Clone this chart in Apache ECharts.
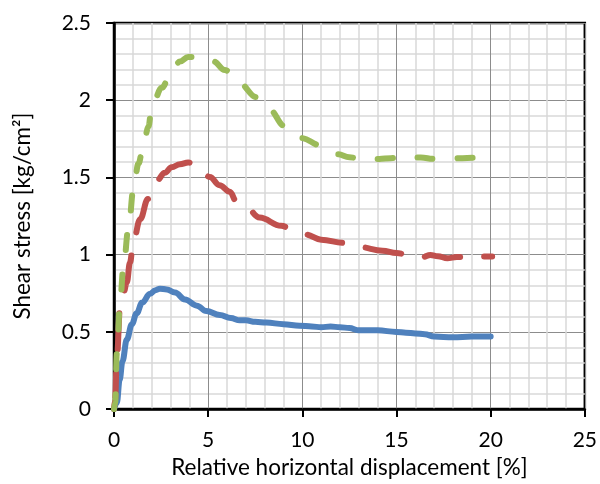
<!DOCTYPE html>
<html><head><meta charset="utf-8">
<script src="https://cdn.jsdelivr.net/npm/echarts@6/dist/echarts.min.js"></script>
<style>html,body{margin:0;padding:0;background:#fff}#c{width:600px;height:484px}</style>
</head><body><div id="c"></div>
<script>
const xTitle = "Relative horizontal displacement [%]";
const yTitle = "Shear stress [kg/cm²]";
const blueX = [0,0.15,0.3,0.45,0.68,0.95,1.2,1.5,1.9,2.2,2.44,2.8,3.24,3.77,4.4,4.9,5.62,6.2,6.68,7.0,7.5,8.09,9.0,9.85,10.5,11,11.5,12,12.5,13,14,15,15.5,16,16.5,17,18,19,20];
const blueY = [0,0.04,0.19,0.31,0.45,0.55,0.62,0.69,0.745,0.77,0.78,0.775,0.755,0.71,0.67,0.635,0.61,0.59,0.575,0.575,0.565,0.56,0.55,0.54,0.535,0.53,0.535,0.53,0.525,0.51,0.51,0.5,0.495,0.49,0.485,0.47,0.465,0.47,0.47];
const redX = [0,0.06,0.15,0.33,0.5,0.68,0.85,1.03,1.39,1.8,2.27,2.7,3.06,3.5,3.94,4.47,5.09,5.6,6.15,6.5,7.0,7.73,8.88,9.5,10.2,11.0,12.23,13,14.26,15.0,15.67,16.38,16.8,17.2,17.7,18.2,19.0,20.08];
const redY = [0,0.06,0.34,0.67,0.75,0.82,0.95,1.09,1.23,1.36,1.48,1.53,1.566,1.585,1.597,1.572,1.503,1.45,1.408,1.345,1.31,1.24,1.187,1.16,1.13,1.097,1.076,1.05,1.026,1.01,0.998,0.984,0.998,0.99,0.977,0.985,0.988,0.988];
const greenX = [0,0.06,0.15,0.33,0.5,0.77,1.03,1.3,1.55,1.83,2.0,2.53,3.06,3.5,3.94,4.4,4.9,5.3,5.88,6.68,7.56,8.26,9.06,9.94,11.0,11.88,12.5,13.12,14.08,14.7,15.32,16.29,17.0,17.52,18.5,19.73,20.08];
const greenY = [0,0.04,0.36,0.71,0.92,1.17,1.42,1.59,1.70,1.83,1.955,2.08,2.186,2.25,2.28,2.28,2.276,2.25,2.196,2.106,2.02,1.937,1.833,1.755,1.707,1.65,1.63,1.622,1.619,1.625,1.633,1.629,1.62,1.619,1.625,1.63,1.622];

const zip = (a, b) => a.map((v, i) => [v, b[i]]);
const FONT = 'Lato';
const chart = echarts.init(document.getElementById('c'));
chart.setOption({
  animation: false,
  grid: {left: 114, right: 14, top: 23, bottom: 64, show: true, borderColor: '#000', borderWidth: 2.5, backgroundColor: 'transparent'},
  xAxis: {
    type: 'value', min: 0, max: 25, interval: 5,
    name: xTitle, nameLocation: 'middle', nameGap: 40,
    nameTextStyle: {fontFamily: FONT, fontSize: 22.5, color: '#000'},
    axisLine: {show: true, lineStyle: {color: '#000', width: 2.5}},
    axisTick: {show: true, length: 8, lineStyle: {color: '#000', width: 2}},
    axisLabel: {fontFamily: FONT, fontSize: 21, color: '#000', margin: 21},
    splitLine: {show: true, lineStyle: {color: '#8c8c8c', width: 1}},
    minorTick: {show: false, splitNumber: 5},
    minorSplitLine: {show: true, lineStyle: {color: '#d9d9d9', width: 1.5}}
  },
  yAxis: {
    type: 'value', min: 0, max: 2.5, interval: 0.5,
    name: yTitle, nameLocation: 'middle', nameGap: 80,
    nameTextStyle: {fontFamily: FONT, fontSize: 22.5, color: '#000'},
    axisLine: {show: true, lineStyle: {color: '#000', width: 2.5}},
    axisTick: {show: true, length: 8, lineStyle: {color: '#000', width: 2}},
    axisLabel: {fontFamily: FONT, fontSize: 21, color: '#000', margin: 23},
    splitLine: {show: true, lineStyle: {color: '#8c8c8c', width: 1}},
    minorTick: {show: false, splitNumber: 5},
    minorSplitLine: {show: true, lineStyle: {color: '#d9d9d9', width: 1.5}}
  },
  series: [
    {type: 'line', data: zip(blueX, blueY), showSymbol: false, smooth: 0.4, smoothMonotone: 'x',
     lineStyle: {color: '#4f81bd', width: 6, cap: 'round', join: 'round'}},
    {type: 'line', data: zip(redX, redY), showSymbol: false, smooth: 0.4, smoothMonotone: 'x',
     lineStyle: {color: '#c0504d', width: 6, type: [36, 24], cap: 'round', join: 'round'}},
    {type: 'line', data: zip(greenX, greenY), showSymbol: false, smooth: 0.4, smoothMonotone: 'x',
     lineStyle: {color: '#9bbb59', width: 6, type: [15, 25], cap: 'round', join: 'round'}}
  ]
});
</script></body></html>
